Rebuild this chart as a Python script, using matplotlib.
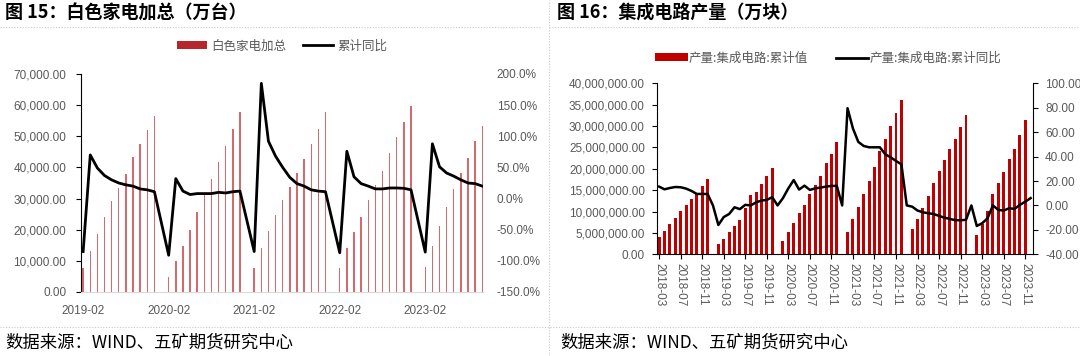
import numpy as np
import pandas as pd
import matplotlib
matplotlib.use('Agg')
import matplotlib.pyplot as plt
from matplotlib.patches import Patch
from matplotlib.lines import Line2D
from matplotlib.ticker import FuncFormatter, MultipleLocator

plt.rcParams['font.family'] = ['Liberation Sans', 'Noto Sans CJK SC', 'DejaVu Sans']
CJK = ['Noto Sans CJK SC', 'DejaVu Sans']
GREY = '#595959'

# 图15 白色家电加总（万台）, 一月无数据
wg_months = pd.period_range('2019-02', '2023-10', freq='M')
wg_months = wg_months[wg_months.month != 1]
wg_total = [7600, 13200, 18700, 24000, 29100, 33500, 37900, 43400, 47500, 52000, 56500,
            4900, 10000, 14800, 19800, 25800, 31100, 36300, 41700, 46900, 52400, 57900,
            7800, 14200, 19600, 24700, 29700, 33800, 38200, 42700, 47500, 52500, 57900,
            7800, 14000, 19200, 24200, 29400, 34300, 38800, 44500, 49700, 54700, 59700,
            8100, 14800, 21200, 27200, 33200, 38300, 43100, 48600, 53200]
wg_yoy = [-85, 70, 49, 37, 30, 25, 22, 20, 15.5, 14, 11,
          -91, 32, 12, 6.5, 8, 8, 8, 10, 9, 11, 12,
          -85, 185, 92, 68, 50, 34, 24, 20, 14, 12, 11,
          -87, 76, 35, 24, 20, 15.5, 15.5, 17, 17, 16.5, 14,
          -86, 88, 51, 41, 36, 30, 25, 24, 20]
wg_ticks = ['2019-02', '2020-02', '2021-02', '2022-02', '2023-02']

# 图16 集成电路产量（万块）, 单位百万(万块)
ic_months = pd.period_range('2018-03', '2023-12', freq='M')
nan = np.nan
ic_output = [4.1, 5.5, 7.1, 8.6, 10.2, 11.5, 12.9, 14.1, 15.9, 17.5,
             nan, 2.4, 3.6, 5.1, 6.6, 8.0, 10.8, 13.8, 14.6, 16.4, 18.2, 20.3,
             nan, 3.1, 5.1, 7.25, 9.6, 11.6, 14.0, 16.1, 18.3, 21.3, 23.5, 26.3,
             nan, 5.3, 8.3, 11.1, 14.1, 17.2, 20.5, 24.2, 26.9, 29.9, 33.1, 36.1,
             nan, 5.85, 8.2, 10.75, 13.7, 16.6, 19.6, 22.1, 24.6, 26.9, 29.7, 32.6,
             nan, 4.6, 7.0, 10.1, 14.1, 16.6, 19.2, 22.2, 24.6, 27.8, 31.3, nan]
ic_yoy = [15.4, 13.2, 14.3, 15.1, 14.9, 13.8, 11.9, 9.4, 9.4, 9.4,
          0, -16, -9.5, -7, -1.5, -3, 0.5, 0, 2.5, 4, 4.5, 6.8,
          0, 6, 14, 20.8, 13, 16.2, 12.7, 14, 14.6, 15.4, 16, 16,
          0, 79.6, 63, 52, 48.7, 47.6, 47.6, 47.6, 41.9, 39.4, 36.4, 33.7,
          0, -1, -4.2, -5.6, -6.4, -7, -8.6, -10, -11, -12.1, -12.1, -11.8,
          0, -16.8, -14.6, -10.5, 0, -3.7, -4.2, -2.3, -2.8, 0.4, 3.1, 6.0]

fig = plt.figure(figsize=(10.8, 3.56), dpi=100)

def fx(px):
    return px / 1080

def fy(py):
    return 1 - py / 356

# ---------- 左图 ----------
ax = fig.add_axes([fx(81), fy(292), fx(483 - 81), (292 - 74) / 356])
start = pd.Period('2019-02', freq='M')
wg_x = np.array([(p - start).n for p in wg_months])
ax.bar(wg_x, wg_total, width=0.2, color='#d46a6e', zorder=2)
ax.set_ylim(0, 70000)
ax.set_xlim(-0.3, wg_x[-1] + 0.1)
ax.yaxis.set_major_locator(MultipleLocator(10000))
ax.yaxis.set_major_formatter(FuncFormatter(lambda v, p: f'{v:,.2f}'))
tick_x = [(pd.Period(t, freq='M') - start).n for t in wg_ticks]
ax.set_xticks(tick_x)
ax.set_xticklabels(wg_ticks)
for s in ['top', 'right']:
    ax.spines[s].set_visible(False)
ax.spines['left'].set_color('black')
ax.spines['bottom'].set_color('#d9d9d9')
ax.tick_params(axis='y', length=3.5, color='black', labelsize=8.5, labelcolor=GREY, pad=7)
ax.tick_params(axis='x', length=0, labelsize=8.5, labelcolor=GREY, pad=9)

ax2 = ax.twinx()
ax2.plot(wg_x, wg_yoy, color='black', lw=2, zorder=3)
ax2.set_ylim(-150, 200)
ax2.yaxis.set_major_locator(MultipleLocator(50))
ax2.yaxis.set_major_formatter(FuncFormatter(lambda v, p: f'{v:.1f}%'))
for s in ax2.spines.values():
    s.set_visible(False)
ax2.tick_params(axis='y', length=0, labelsize=8.5, labelcolor=GREY, pad=10)

h1 = [Patch(facecolor='#b5262d', edgecolor='none'), Line2D([], [], color='black', lw=2)]
leg = ax.legend(h1, ['白色家电加总', '累计同比'], loc='center', bbox_to_anchor=(0.5, 1 + 28 / 218),
                ncol=2, frameon=False, prop={'family': CJK, 'size': 9},
                handlelength=2.4, handleheight=0.6, columnspacing=1.4, handletextpad=0.3)
for t in leg.get_texts():
    t.set_color(GREY)

# ---------- 右图 ----------
bx = fig.add_axes([fx(656.7), fy(254.3), fx(1033.3 - 656.7), (254.3 - 83.3) / 356])
ic_x = np.arange(len(ic_months))
bx.bar(ic_x, np.array(ic_output) * 1e6, width=0.55, color='#c00000', zorder=2)
bx.set_ylim(0, 40e6)
bx.set_xlim(-0.45, ic_x[-1] + 0.5)
bx.yaxis.set_major_locator(MultipleLocator(5e6))
bx.yaxis.set_major_formatter(FuncFormatter(lambda v, p: f'{v:,.2f}'))
bx.set_xticks(ic_x[::4])
bx.set_xticklabels([str(p) for p in ic_months[::4]], rotation=-90)
bx.spines['top'].set_visible(False)
bx.spines['right'].set_visible(False)
for s in ['left', 'bottom']:
    bx.spines[s].set_color('black')
bx.tick_params(axis='y', length=3.5, color='black', labelsize=8.5, labelcolor=GREY, pad=5)
bx.tick_params(axis='x', length=3.5, color='black', labelsize=8.5, labelcolor=GREY, pad=3)

bx2 = bx.twinx()
bx2.plot(ic_x, ic_yoy, color='black', lw=1.8, zorder=3)
bx2.set_ylim(-40, 100)
bx2.yaxis.set_major_locator(MultipleLocator(20))
bx2.yaxis.set_major_formatter(FuncFormatter(lambda v, p: f'{v:.2f}'))
for s in ['top', 'left', 'bottom']:
    bx2.spines[s].set_visible(False)
bx2.spines['right'].set_color('black')
bx2.tick_params(axis='y', length=3.5, color='black', labelsize=8.5, labelcolor=GREY, pad=5)

h2 = [Patch(facecolor='#c00000', edgecolor='none'), Line2D([], [], color='black', lw=2)]
leg2 = bx.legend(h2, ['产量:集成电路:累计值', '产量:集成电路:累计同比'], loc='center',
                 bbox_to_anchor=((828 - 656.7) / 376.6, 1 + 25 / 171), ncol=2, frameon=False,
                 prop={'family': CJK, 'size': 9}, handlelength=2.6, handleheight=0.6,
                 columnspacing=2.2, handletextpad=0.1)
for t in leg2.get_texts():
    t.set_color(GREY)

# ---------- 标题、来源与分隔线 ----------
fig.text(fx(5), fy(13), '图 15：白色家电加总（万台）', family=CJK, fontsize=13,
         fontweight='bold', va='center', ha='left')
fig.text(fx(557), fy(13), '图 16：集成电路产量（万块）', family=CJK, fontsize=13,
         fontweight='bold', va='center', ha='left')
fig.text(fx(5), fy(343), '数据来源：WIND、五矿期货研究中心', family=CJK, fontsize=12.5,
         va='center', ha='left')
fig.text(fx(560), fy(343), '数据来源：WIND、五矿期货研究中心', family=CJK, fontsize=12.5,
         va='center', ha='left')

sep = dict(color='#c8c8c8', lw=0.8, ls=(0, (1, 1.5)))
fig.add_artist(Line2D([fx(549), fx(549)], [0, 1], **sep))
fig.add_artist(Line2D([0, fx(540)], [fy(27), fy(27)], **sep))
fig.add_artist(Line2D([fx(549), 1], [fy(27), fy(27)], **sep))
fig.add_artist(Line2D([0, 1], [fy(327), fy(327)], **sep))

fig.savefig('out.png', dpi=100)
